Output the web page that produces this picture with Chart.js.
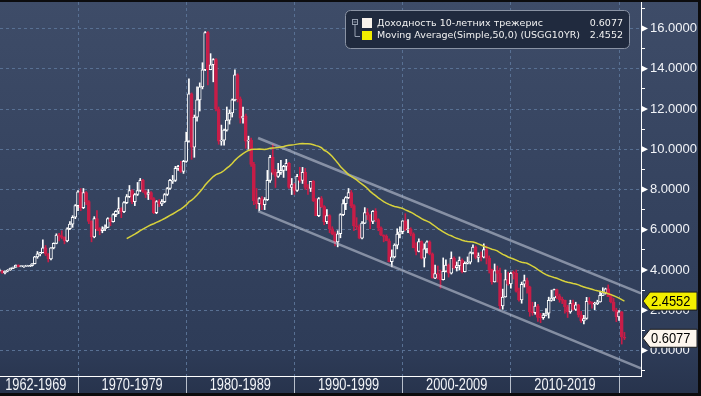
<!DOCTYPE html>
<html>
<head>
<meta charset="utf-8">
<script src="https://cdn.jsdelivr.net/npm/chart.js@4.4.1/dist/chart.umd.min.js"></script>
<style>
  html, body { margin: 0; padding: 0; background: #27334c; }
  #wrap { width: 701px; height: 396px; }
</style>
</head>
<body>
<div id="wrap"><canvas id="chart" width="701" height="396"></canvas></div>
<script>
// quarterly candles of the 10y yield, 1962Q1 .. 2020Q2 (5 years per row)
const firstYear = 1962;
const opens = [
  4.06,3.89,3.95,3.96, 3.85,3.95,4.00,4.08, 4.14,4.24,4.17,4.20, 4.20,4.21,4.21,4.31, 4.65,4.80,4.86,5.10,
  4.80,4.55,5.10,5.32, 5.74,5.70,5.62,5.45, 6.05,6.28,6.62,7.20, 7.88,7.10,7.85,7.40, 6.42,5.65,6.55,6.05,
  5.95,6.05,6.12,6.55, 6.40,6.75,6.92,7.05, 6.90,7.35,7.65,7.95, 7.40,7.75,7.95,8.45, 7.90,7.75,7.85,7.55,
  6.85,7.40,7.28,7.40, 7.75,8.05,8.45,8.45, 9.05,9.15,8.90,9.40, 10.40,12.75,10.10,11.60, 12.45,13.10,13.95,15.80,
  13.95,14.20,14.45,12.00, 10.40,10.45,10.95,11.45, 11.80,12.45,13.70,12.50, 11.55,11.65,10.40,10.45, 9.25,7.45,7.30,7.55,
  7.25,7.50,8.45,9.60, 8.85,8.65,8.85,8.95, 9.15,9.30,8.10,8.25, 7.95,8.65,8.45,8.85, 8.10,8.05,8.40,7.45,
  6.70,7.55,7.15,6.40, 6.70,6.05,5.80,5.40, 5.80,6.75,7.30,7.60, 7.85,7.20,6.20,6.15, 5.58,6.33,6.85,6.72,
  6.42,6.92,6.50,6.10, 5.74,5.67,5.45,4.42, 4.65,5.24,5.78,5.90, 6.44,6.00,6.03,5.80, 5.11,4.92,5.41,4.59,
  5.05,5.40,4.80,3.60, 3.82,3.80,3.52,3.94, 4.25,3.84,4.58,4.12, 4.22,4.48,3.92,4.33, 4.39,4.85,5.14,4.63,
  4.70,4.64,5.02,4.59, 4.02,3.41,3.97,3.83, 2.21,2.66,3.53,3.31, 3.84,3.83,2.93,2.51, 3.29,3.47,3.16,1.92,
  1.88,2.21,1.65,1.63, 1.76,1.85,2.49,2.61, 3.03,2.72,2.53,2.49, 2.17,1.92,2.35,2.04, 2.27,1.77,1.47,1.59,
  2.44,2.39,2.30,2.33, 2.41,2.74,2.86,3.06, 2.68,2.41,2.01,1.67, 1.92,0.67
];
const highs = [
  4.12,3.96,4.04,3.98, 3.96,4.02,4.10,4.15, 4.25,4.26,4.21,4.21, 4.23,4.23,4.32,4.68, 4.92,4.88,5.50,5.22,
  4.82,5.12,5.35,5.80, 5.82,5.95,5.65,6.10, 6.40,6.70,7.25,7.95, 8.05,8.05,7.90,7.45, 6.45,6.65,6.95,6.10,
  6.15,6.25,6.60,6.60, 6.80,6.95,7.60,7.10, 7.40,7.75,8.20,8.00, 7.80,8.35,8.55,8.50, 7.95,8.00,7.90,7.60,
  7.45,7.50,7.50,7.80, 8.10,8.50,8.70,9.15, 9.20,9.40,9.45,10.85, 13.50,12.80,11.70,13.10, 13.30,14.30,15.85,15.85,
  14.75,14.50,14.50,12.10, 11.20,11.00,12.10,11.95, 12.50,13.95,13.75,12.60, 12.10,11.75,10.65,10.55, 9.35,8.05,7.60,7.65,
  7.60,8.95,9.70,10.25, 9.00,9.30,9.45,9.20, 9.50,9.35,8.55,8.30, 8.75,9.10,9.10,9.05, 8.25,8.40,8.45,7.55,
  7.60,7.65,7.20,7.00, 6.75,6.15,5.90,5.95, 6.80,7.50,7.65,8.05, 7.95,7.25,6.60,6.25, 6.40,7.10,7.05,6.75,
  6.95,7.05,6.55,6.15, 5.75,5.75,5.55,5.00, 5.30,6.05,6.15,6.45, 6.80,6.50,6.10,5.85, 5.35,5.55,5.45,5.30,
  5.45,5.45,4.85,4.25, 4.20,4.00,4.60,4.50, 4.30,4.90,4.65,4.40, 4.65,4.55,4.40,4.65, 4.90,5.25,5.20,4.85,
  4.90,5.30,5.20,4.70, 4.05,4.30,4.20,4.10, 3.05,4.00,3.90,3.90, 3.95,4.00,3.10,3.40, 3.75,3.60,3.20,2.40,
  2.40,2.30,1.85,1.85, 2.08,2.65,3.00,3.05, 3.05,2.80,2.65,2.50, 2.25,2.50,2.50,2.40, 2.30,1.95,1.75,2.64,
  2.63,2.42,2.40,2.50, 2.95,3.12,3.10,3.26, 2.80,2.60,2.10,1.98, 1.94,0.90
];
const lows = [
  3.88,3.80,3.93,3.83, 3.80,3.91,3.98,4.06, 4.13,4.15,4.16,4.13, 4.18,4.18,4.19,4.30, 4.58,4.70,4.85,4.72,
  4.40,4.50,5.05,5.30, 5.45,5.55,5.30,5.40, 6.00,6.12,6.55,6.95, 6.95,7.05,7.25,6.30, 5.40,5.60,5.95,5.75,
  5.85,5.95,6.10,6.20, 6.38,6.65,6.80,6.60, 6.85,7.30,7.60,7.30, 7.20,7.70,7.90,7.85, 7.60,7.50,7.50,6.80,
  6.80,7.15,7.20,7.35, 7.70,8.00,8.30,8.40, 8.95,8.85,8.80,9.35, 10.35,9.50,9.60,11.40, 11.90,13.00,13.90,13.20,
  13.95,13.35,11.90,10.25, 10.20,10.20,10.90,11.25, 11.60,12.40,12.35,11.30, 11.30,10.05,10.00,9.15, 7.25,7.05,6.95,7.00,
  7.00,7.45,8.35,8.75, 8.10,8.60,8.75,8.60, 8.95,8.05,7.75,7.75, 7.90,8.35,8.30,8.00, 7.75,7.90,7.40,6.70,
  6.65,7.10,6.25,6.30, 5.85,5.75,5.20,5.15, 5.60,6.70,7.00,7.55, 7.10,5.95,6.00,5.55, 5.55,6.30,6.50,6.05,
  6.30,6.40,5.95,5.70, 5.40,5.45,4.40,4.16, 4.60,5.05,5.60,5.80, 5.95,5.85,5.70,5.10, 4.75,4.90,4.55,4.15,
  4.85,4.75,3.60,3.57, 3.55,3.10,3.50,3.90, 3.65,3.80,4.05,3.95, 4.00,3.85,3.90,4.30, 4.30,4.80,4.55,4.40,
  4.45,4.60,4.30,3.85, 3.30,3.40,3.40,2.05, 2.05,2.65,3.25,3.10, 3.55,2.90,2.45,2.35, 3.15,2.85,1.70,1.75,
  1.80,1.45,1.38,1.55, 1.72,1.61,2.45,2.47, 2.57,2.40,2.33,1.86, 1.64,1.85,2.00,1.99, 1.66,1.40,1.32,1.55,
  2.30,2.10,2.03,2.28, 2.40,2.73,2.80,2.68, 2.37,1.95,1.43,1.50, 0.32,0.54
];
const closes = [
  3.89,3.95,3.96,3.85, 3.95,4.00,4.08,4.14, 4.24,4.17,4.20,4.20, 4.21,4.21,4.31,4.65, 4.80,4.86,5.10,4.80,
  4.55,5.10,5.32,5.74, 5.70,5.62,5.45,6.05, 6.28,6.62,7.20,7.88, 7.10,7.85,7.40,6.42, 5.65,6.55,6.05,5.95,
  6.05,6.12,6.55,6.40, 6.75,6.92,7.05,6.90, 7.35,7.65,7.95,7.40, 7.75,7.95,8.45,7.90, 7.75,7.85,7.55,6.85,
  7.40,7.28,7.40,7.75, 8.05,8.45,8.45,9.05, 9.15,8.90,9.40,10.40, 12.75,10.10,11.60,12.45, 13.10,13.95,15.80,13.95,
  14.20,14.45,12.00,10.40, 10.45,10.95,11.45,11.80, 12.45,13.70,12.50,11.55, 11.65,10.40,10.45,9.25, 7.45,7.30,7.55,7.25,
  7.50,8.45,9.60,8.85, 8.65,8.85,8.95,9.15, 9.30,8.10,8.25,7.95, 8.65,8.45,8.85,8.10, 8.05,8.40,7.45,6.70,
  7.55,7.15,6.40,6.70, 6.05,5.80,5.40,5.80, 6.75,7.30,7.60,7.85, 7.20,6.20,6.15,5.58, 6.33,6.85,6.72,6.42,
  6.92,6.50,6.10,5.74, 5.67,5.45,4.42,4.65, 5.24,5.78,5.90,6.44, 6.00,6.03,5.80,5.11, 4.92,5.41,4.59,5.05,
  5.40,4.80,3.60,3.82, 3.80,3.52,3.94,4.25, 3.84,4.58,4.12,4.22, 4.48,3.92,4.33,4.39, 4.85,5.14,4.63,4.70,
  4.64,5.02,4.59,4.02, 3.41,3.97,3.83,2.21, 2.66,3.53,3.31,3.84, 3.83,2.93,2.51,3.29, 3.47,3.16,1.92,1.88,
  2.21,1.65,1.63,1.76, 1.85,2.49,2.61,3.03, 2.72,2.53,2.49,2.17, 1.92,2.35,2.04,2.27, 1.77,1.47,1.59,2.44,
  2.39,2.30,2.33,2.41, 2.74,2.86,3.06,2.68, 2.41,2.01,1.67,1.92, 0.67,0.6077
];

// hand-drawn trend channel (year, yield)
const channelUpper = [{ x: 1986.64, y: 10.56 }, { x: 2022.03, y: 2.84 }];
const channelLower = [{ x: 1986.64, y: 6.93 }, { x: 2022.03, y: -0.89 }];

// axes
const decadeTicks = [1970, 1980, 1990, 2000, 2010, 2020];
const labelTicks = [1966.1, 1975, 1985, 1995, 2005, 2015];
const decadeLabels = ['1962-1969', '1970-1979', '1980-1989', '1990-1999', '2000-2009', '2010-2019'];
const yTicks = [-1, 0, 1, 2, 3, 4, 5, 6, 7, 8, 9, 10, 11, 12, 13, 14, 15, 16, 17];

// legend
const seriesNames = ['Доходность 10-летних трежерис', 'Moving Average(Simple,50,0) (USGG10YR)'];
const lastValues = ['0.6077', '2.4552'];
const maPeriod = 50;

const WHITE = '#ffffff';
const RED = '#c81d48';
const HOLLOW = '#2f3d59';
const GRID = '#587093';
const SANS = "'Liberation Sans', Arial, sans-serif";

const quarters = [];
for (let i = 0; i < closes.length; i++) {
  quarters.push((firstYear + Math.floor(i / 4)) + 'Q' + (i % 4 + 1));
}
// each candle sits at the end of its quarter
const candleX = quarters.map((q, i) => firstYear + (i + 1) / 4);
const isUp = closes.map((c, i) => c >= opens[i]);

const bodies = candleX.map((x, i) => ({ x, y: [opens[i], closes[i]] }));
const wicks = candleX.map((x, i) => ({ x, y: [lows[i], highs[i]] }));

// simple 50-quarter moving average, as named in the legend
const maPoints = [];
for (let i = maPeriod - 1; i < closes.length; i++) {
  let sum = 0;
  for (let k = i - maPeriod + 1; k <= i; k++) sum += closes[k];
  maPoints.push({ x: candleX[i], y: sum / maPeriod });
}

const backdrop = {
  id: 'backdrop',
  beforeDraw(chart) {
    const ctx = chart.ctx;
    const g = ctx.createLinearGradient(0, 0, 0, chart.height);
    g.addColorStop(0, '#3e4c68');
    g.addColorStop(0.88, '#2e3c58');
    g.addColorStop(1, '#27334c');
    ctx.save();
    ctx.fillStyle = g;
    ctx.fillRect(0, 0, chart.width, chart.height);
    ctx.restore();
  }
};

// narrow text, like the terminal font
function narrowText(ctx, text, x, y, size, squeeze, align) {
  ctx.save();
  ctx.font = size + 'px ' + SANS;
  ctx.textAlign = align;
  ctx.textBaseline = 'middle';
  ctx.translate(x, y);
  ctx.scale(squeeze, 1);
  ctx.fillText(text, 0, 0);
  ctx.restore();
}

function drawTag(ctx, y, text, fill) {
  const left = 643, right = 697, h = 18;
  ctx.beginPath();
  ctx.moveTo(left, y);
  ctx.lineTo(left + 7, y - h / 2);
  ctx.lineTo(right, y - h / 2);
  ctx.lineTo(right, y + h / 2);
  ctx.lineTo(left + 7, y + h / 2);
  ctx.closePath();
  ctx.fillStyle = fill;
  ctx.fill();
  ctx.strokeStyle = '#1b1b1b';
  ctx.lineWidth = 1;
  ctx.stroke();
  ctx.fillStyle = '#000000';
  narrowText(ctx, text, left + 8, y + 1, 15, 0.86, 'left');
}

const overlay = {
  id: 'overlay',
  afterDraw(chart) {
    const ctx = chart.ctx;
    const ys = chart.scales.y;
    const xs = chart.scales.x;
    const right = chart.chartArea.right;
    ctx.save();

    // triangles on the labelled y ticks
    ctx.fillStyle = WHITE;
    yTicks.filter(v => v >= 0 && v <= 16 && v % 2 === 0).forEach(v => {
      const py = ys.getPixelForValue(v);
      ctx.beginPath();
      ctx.moveTo(right + 1, py - 3);
      ctx.lineTo(right + 7, py);
      ctx.lineTo(right + 1, py + 3);
      ctx.closePath();
      ctx.fill();
    });

    // decade labels under the axis
    ctx.fillStyle = '#f2f4f8';
    labelTicks.forEach((v, i) => {
      narrowText(ctx, decadeLabels[i], xs.getPixelForValue(v), 386, 16, 0.8, 'center');
    });

    // legend box
    ctx.beginPath();
    ctx.roundRect(345.5, 10.5, 284, 38, 5);
    ctx.fillStyle = '#202a3e';
    ctx.fill();
    ctx.strokeStyle = '#8a93a4';
    ctx.lineWidth = 1;
    ctx.stroke();

    ctx.strokeStyle = '#97a0b0';
    ctx.strokeRect(352.5, 19.5, 5, 5);
    ctx.beginPath();
    ctx.moveTo(353.5, 22); ctx.lineTo(356.5, 22);
    ctx.moveTo(355, 25); ctx.lineTo(355, 36.5); ctx.lineTo(360, 36.5);
    ctx.stroke();

    ctx.fillStyle = '#f8f2ec';
    ctx.fillRect(362, 18, 10, 10);
    ctx.fillStyle = '#f2ec00';
    ctx.fillRect(362, 31, 10, 9);

    ctx.font = "9.5px 'DejaVu Sans', sans-serif";
    ctx.fillStyle = '#f2f2f2';
    ctx.textBaseline = 'middle';
    const rowsY = [23.5, 36];
    seriesNames.forEach((name, i) => {
      ctx.textAlign = 'left';
      ctx.fillText(name, 377, rowsY[i]);
      ctx.textAlign = 'right';
      ctx.fillText(lastValues[i], 623, rowsY[i]);
    });

    // last value tags on the axis
    drawTag(ctx, ys.getPixelForValue(parseFloat(lastValues[1])), lastValues[1], '#f2ee00');
    drawTag(ctx, ys.getPixelForValue(parseFloat(lastValues[0])), lastValues[0], '#fdf6ee');

    // frame
    ctx.fillStyle = '#0c0c0e';
    ctx.fillRect(0, 0, chart.width, 2);
    ctx.fillRect(chart.width - 3, 0, 3, chart.height);
    ctx.fillRect(0, chart.height - 3, chart.width, 3);
    ctx.restore();
  }
};

new Chart(document.getElementById('chart'), {
  type: 'bar',
  data: {
    datasets: [
      {
        type: 'line', data: maPoints, borderColor: '#d8d23c', borderWidth: 1.5,
        pointRadius: 0, tension: 0, order: 0
      },
      {
        type: 'line', data: channelUpper, borderColor: 'rgba(190,197,212,0.6)', borderWidth: 2.5,
        pointRadius: 0, order: 1
      },
      {
        type: 'line', data: channelLower, borderColor: 'rgba(190,197,212,0.6)', borderWidth: 2.5,
        pointRadius: 0, order: 1
      },
      {
        data: bodies, grouped: false, barThickness: 3, minBarLength: 1,
        backgroundColor: isUp.map(u => (u ? HOLLOW : RED)),
        borderColor: isUp.map(u => (u ? WHITE : RED)),
        borderWidth: 1, borderSkipped: false, order: 2
      },
      {
        data: wicks, grouped: false, barThickness: 1,
        backgroundColor: isUp.map(u => (u ? WHITE : RED)),
        borderWidth: 0, order: 3
      }
    ]
  },
  options: {
    responsive: false,
    animation: false,
    events: [],
    layout: { padding: { top: 2, left: 0, right: 0, bottom: 0 }, autoPadding: false },
    plugins: { legend: { display: false }, tooltip: { enabled: false } },
    scales: {
      x: {
        type: 'linear',
        position: 'bottom',
        offset: false,
        min: 1962.79,
        max: 2022.03,
        afterBuildTicks(scale) {
          scale.ticks = decadeTicks.map(v => ({ value: v }));
        },
        afterFit(scale) {
          scale.height = 20;
          scale.paddingLeft = 0;
          scale.paddingRight = 0;
        },
        border: { display: true, color: WHITE, width: 1, dash: [3, 3] },
        grid: {
          offset: false,
          color: GRID,
          tickColor: '#b8bfcb',
          tickLength: 20,
          tickBorderDash: [],
          drawTicks: true
        },
        ticks: { display: false }
      },
      y: {
        type: 'linear',
        position: 'right',
        min: -1.267,
        max: 17.317,
        afterBuildTicks(scale) {
          scale.ticks = yTicks.map(v => ({ value: v }));
        },
        afterFit(scale) {
          scale.width = 60;
          scale.paddingTop = 0;
          scale.paddingBottom = 0;
        },
        border: { display: true, color: WHITE, width: 1, dash: [3, 3] },
        grid: {
          color: ctx => (ctx.tick && ctx.tick.value % 2 === 0 && ctx.tick.value >= 0 && ctx.tick.value <= 16 ? GRID : 'transparent'),
          tickColor: WHITE,
          tickLength: 4,
          tickBorderDash: []
        },
        ticks: {
          autoSkip: false,
          padding: 5,
          color: '#f2f4f8',
          font: { family: SANS, size: 13 },
          callback(value) {
            return value >= 0 && value <= 16 && value % 2 === 0 ? value.toFixed(4) : '';
          }
        }
      }
    }
  },
  plugins: [backdrop, overlay]
});
</script>
</body>
</html>
